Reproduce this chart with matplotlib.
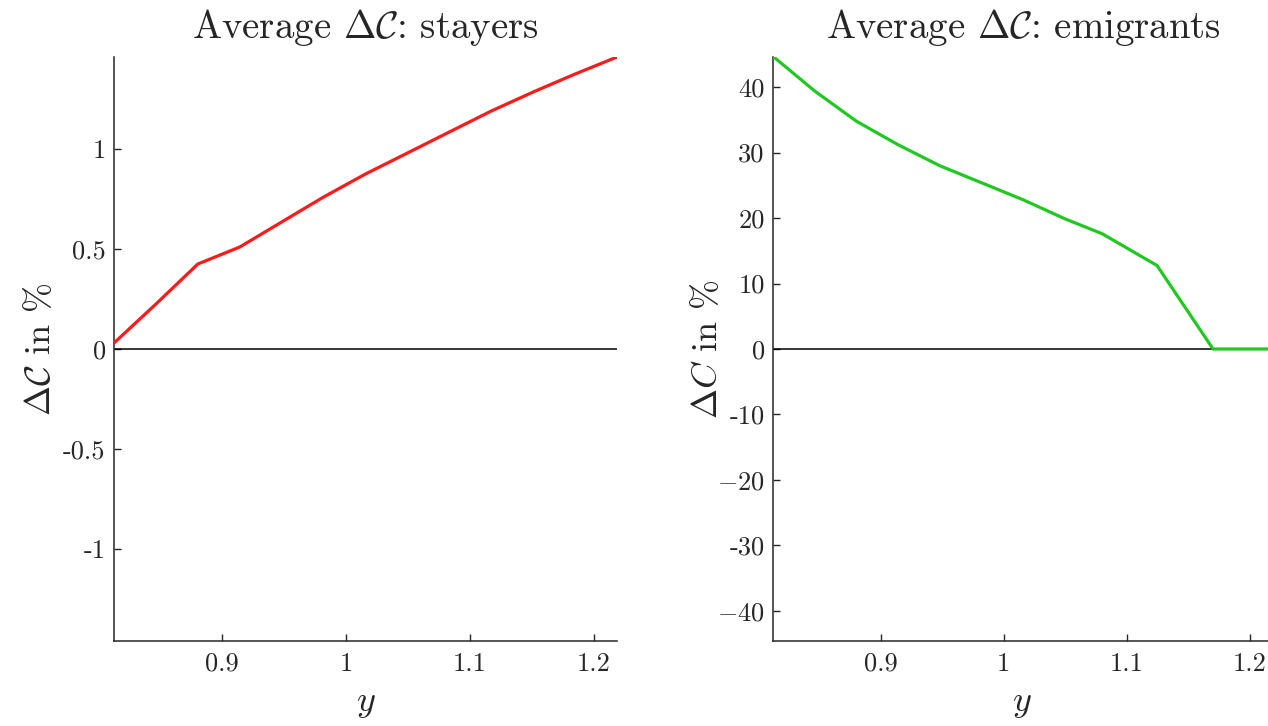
import matplotlib
matplotlib.use("Agg")
import matplotlib.pyplot as plt

plt.rcParams['font.family'] = 'serif'
plt.rcParams['font.serif'] = ['cmr10']
plt.rcParams['mathtext.fontset'] = 'cm'
plt.rcParams['axes.formatter.use_mathtext'] = True

# ---- data ----
x_stay = [0.8125, 0.8464, 0.8802, 0.9141, 0.9479, 0.9818, 1.0156, 1.0495,
          1.0833, 1.1172, 1.1510, 1.1849, 1.2187]
stayers = [0.03, 0.225, 0.425, 0.51, 0.635, 0.76, 0.875, 0.98,
           1.085, 1.19, 1.285, 1.375, 1.46]

x_emig = [0.8125, 0.8464, 0.8802, 0.9141, 0.9479, 0.9818, 1.0156, 1.0495,
          1.0800, 1.1245, 1.1700, 1.2187]
emigrants = [44.7, 39.4, 34.8, 31.2, 28.0, 25.4, 22.8, 19.9,
             17.6, 12.75, 0.0, 0.0]

xticks = [0.9, 1.0, 1.1, 1.2]
xticklabels = ['0.9', '1', '1.1', '1.2']
yticks_left = [-1, -0.5, 0, 0.5, 1]
yticklabels_left = ['-1', '-0.5', '0', '0.5', '1']
yticks_right = [-40, -30, -20, -10, 0, 10, 20, 30, 40]
yticklabels_right = ['$-40$', '-30', '$-20$', '-10', '0', '10', '20', '30', '40']

W, H = 1268, 726
fig = plt.figure(figsize=(W / 100, H / 100), dpi=100)

AX1_W = 503
AX2_L, AX2_W = 773, 500
ax1 = fig.add_axes([114 / W, 1 - 641 / H, AX1_W / W, 584 / H])
ax2 = fig.add_axes([AX2_L / W, 1 - 641 / H, AX2_W / W, 584 / H])

axis_col = '#262626'
for ax in (ax1, ax2):
    ax.spines['top'].set_visible(False)
    ax.spines['right'].set_visible(False)
    for s in ('left', 'bottom'):
        ax.spines[s].set_color(axis_col)
        ax.spines[s].set_linewidth(1.1)
    ax.tick_params(direction='in', length=5, width=1.0, colors=axis_col,
                   labelsize=19, labelcolor='#262626', pad=6)
    ax.tick_params(axis='x', pad=8)
    ax.set_xlim(0.8125, 1.2187)
    ax.set_xticks(xticks)
    ax.set_xticklabels(xticklabels)
    ax.axhline(0, color='black', lw=1.1, zorder=2)
    ax.set_xlabel(r'$y$', fontsize=26, color='#262626')

ax1.plot(x_stay, stayers, color='#ff1a1a', lw=2.3, zorder=3)
ax1.set_ylim(-1.46, 1.46)
ax1.set_yticks(yticks_left)
ax1.set_yticklabels(yticklabels_left)
ax1.set_title(r'Average $\Delta\mathcal{C}$: stayers', fontsize=28, color='#262626', pad=14)
ax1.set_ylabel(r'$\Delta\mathcal{C}$ in %', fontsize=26, color='#262626')
ax1.yaxis.set_label_coords((57 - 114) / AX1_W, 0.5)
ax1.xaxis.set_label_coords(0.5, -(688 - 641) / 584)

ax2.plot(x_emig, emigrants, color='#22c822', lw=2.3, zorder=3)
ax2.set_ylim(-44.6, 44.6)
ax2.set_yticks(yticks_right)
ax2.set_yticklabels(yticklabels_right)
ax2.set_title(r'Average $\Delta\mathcal{C}$: emigrants', fontsize=28, color='#262626', pad=14,
              x=(1023 - AX2_L) / AX2_W)
ax2.set_ylabel(r'$\Delta C$ in %', fontsize=26, color='#262626')
ax2.yaxis.set_label_coords((724 - AX2_L) / AX2_W, 0.5)
ax2.xaxis.set_label_coords((1022 - AX2_L) / AX2_W, -(688 - 641) / 584)

fig.savefig('out.png', dpi=100)
